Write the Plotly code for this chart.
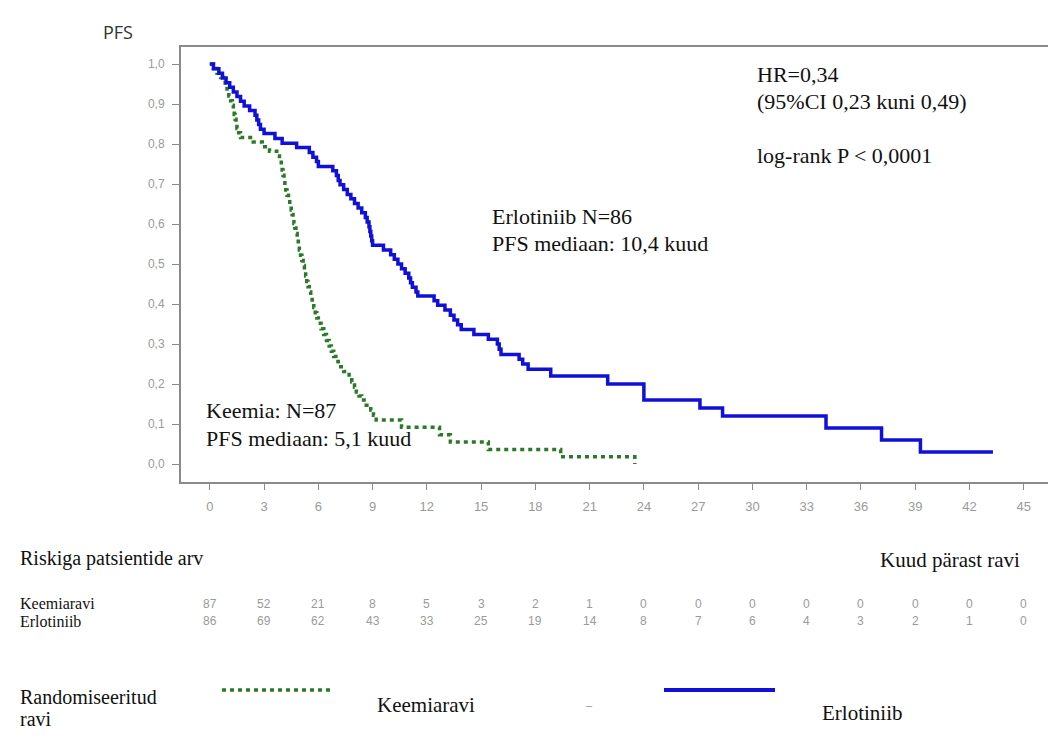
import plotly.graph_objects as go

# ---------------- data ----------------
erl_t = [0, 0.2, 0.5, 0.7, 0.9, 1.1, 1.3, 1.5, 1.7, 1.9, 2.2, 2.5, 2.6, 2.7, 2.8,
         3.0, 3.6, 4.0, 4.8, 5.5, 5.7, 5.9, 6.0, 6.8, 7.0, 7.1, 7.2, 7.4, 7.6, 7.8,
         8.0, 8.2, 8.4, 8.6, 8.7, 8.8, 8.85, 8.9, 8.95, 9.0, 9.6, 10.0, 10.2, 10.4, 10.6,
         10.8, 11.0, 11.1, 11.2, 11.4, 11.5, 12.4, 12.6, 13.0, 13.3, 13.5, 13.7, 13.9, 14.6, 15.4,
         15.9, 16.0, 16.1, 17.1, 17.3, 17.6, 18.85, 22.0, 24.0, 27.1, 28.35, 34.07, 37.14, 39.29, 43.3]
erl_s = [1.0, 0.988, 0.977, 0.965, 0.953, 0.942, 0.930, 0.919, 0.907, 0.895, 0.884, 0.872, 0.860, 0.849, 0.837,
         0.826, 0.814, 0.802, 0.791, 0.779, 0.767, 0.756, 0.744, 0.733, 0.721, 0.709, 0.698, 0.686, 0.674, 0.663,
         0.651, 0.640, 0.628, 0.616, 0.605, 0.593, 0.581, 0.570, 0.558, 0.547, 0.535, 0.523, 0.512, 0.500, 0.488,
         0.477, 0.465, 0.453, 0.442, 0.430, 0.420, 0.408, 0.397, 0.385, 0.372, 0.360, 0.348, 0.336, 0.324, 0.312,
         0.300, 0.287, 0.274, 0.262, 0.250, 0.237, 0.220, 0.200, 0.160, 0.140, 0.120, 0.090, 0.060, 0.030, 0.030]

kem_t = [0, 0.2, 0.4, 0.6, 0.75, 0.85, 0.95, 1.05, 1.15, 1.25, 1.3, 1.35, 1.4, 1.45, 1.5,
         1.6, 1.7, 2.4, 2.9, 3.3, 3.7, 3.85, 3.95, 4.0, 4.05, 4.1, 4.15, 4.2, 4.27, 4.35,
         4.42, 4.5, 4.55, 4.6, 4.65, 4.7, 4.76, 4.83, 4.89, 4.95, 5.02, 5.09, 5.16, 5.23, 5.3,
         5.36, 5.43, 5.5, 5.58, 5.66, 5.75, 5.83, 5.92, 6.0, 6.15, 6.3, 6.45, 6.6, 6.72, 6.85,
         6.97, 7.1, 7.4, 7.7, 7.85, 8.0, 8.1, 8.25, 8.4, 8.65, 8.9, 9.05, 9.2, 10.6, 12.7,
         13.3, 15.4, 19.4, 23.5]
kem_s = [1.0, 0.989, 0.977, 0.966, 0.954, 0.943, 0.931, 0.920, 0.908, 0.897, 0.885, 0.874, 0.862, 0.851, 0.839,
         0.828, 0.816, 0.805, 0.793, 0.782, 0.770, 0.759, 0.747, 0.735, 0.722, 0.710, 0.697, 0.685, 0.672, 0.660,
         0.647, 0.635, 0.624, 0.612, 0.601, 0.590, 0.576, 0.562, 0.549, 0.535, 0.522, 0.509, 0.496, 0.483, 0.470,
         0.456, 0.443, 0.430, 0.417, 0.404, 0.391, 0.378, 0.365, 0.352, 0.338, 0.324, 0.309, 0.295, 0.282, 0.269,
         0.256, 0.243, 0.231, 0.218, 0.205, 0.192, 0.180, 0.170, 0.160, 0.147, 0.135, 0.122, 0.110, 0.092, 0.073,
         0.055, 0.036, 0.018, 0.0]

risk_months = [0, 3, 6, 9, 12, 15, 18, 21, 24, 27, 30, 33, 36, 39, 42, 45]
risk_kem = [87, 52, 21, 8, 5, 3, 2, 1, 0, 0, 0, 0, 0, 0, 0, 0]
risk_erl = [86, 69, 62, 43, 33, 25, 19, 14, 8, 7, 6, 4, 3, 2, 1, 0]

y_ticks = [0.0, 0.1, 0.2, 0.3, 0.4, 0.5, 0.6, 0.7, 0.8, 0.9, 1.0]

# ---------------- layout geometry ----------------
W, H = 1048, 737
L, R, T, B = 181, 0, 47, 255
PW, PH = W - L - R, H - T - B


def px(x, y):
    return (x - L) / PW, (H - B - y) / PH


GREEN = "#2a7a2a"
BLUE = "#1010d8"
GREY = "#9a9a9a"
AXIS = "#8a8a8a"
SERIF = "Liberation Serif, Times New Roman, serif"
NARROW = "Liberation Sans Narrow, Liberation Sans, Arial, sans-serif"

fig = go.Figure()
fig.add_trace(go.Scatter(x=kem_t, y=kem_s, mode="lines", line_shape="hv",
                         line=dict(color=GREEN, width=3.5, dash="4px,4px"),
                         showlegend=False, hoverinfo="skip"))
fig.add_trace(go.Scatter(x=erl_t, y=erl_s, mode="lines", line_shape="hv",
                         line=dict(color=BLUE, width=3.5),
                         showlegend=False, hoverinfo="skip"))

ann = []


def add_text(x, y, text, size, color="#111", family=SERIF, xanchor="left"):
    xp, yp = px(x, y)
    ann.append(dict(x=xp, y=yp, xref="paper", yref="paper", text=text, showarrow=False,
                    xanchor=xanchor, yanchor="middle",
                    font=dict(family=family, size=size, color=color)))


add_text(118, 32, "PFS", 18, "#333", "Open Sans, Liberation Sans, sans-serif", "center")
add_text(755, 74, "HR=0,34", 22)
add_text(755, 101, "(95%CI 0,23 kuni 0,49)", 22)
add_text(755, 155, "log-rank P < 0,0001", 22)
add_text(490, 217, "Erlotiniib N=86", 22)
add_text(490, 243, "PFS mediaan: 10,4 kuud", 22)
add_text(204, 410, "Keemia: N=87", 22)
add_text(204, 438, "PFS mediaan: 5,1 kuud", 22)

add_text(18, 558, "Riskiga patsientide arv", 20)
add_text(1022, 560, "Kuud pärast ravi", 21, xanchor="right")
add_text(18, 603, "Keemiaravi", 16)
add_text(18, 621, "Erlotiniib", 16)

add_text(18, 697, "Randomiseeritud", 20)
add_text(18, 719, "ravi", 20)
add_text(375, 705, "Keemiaravi", 21)
add_text(583, 705, "–", 12, "#888")
add_text(820, 713, "Erlotiniib", 21)

# at-risk numbers, placed at the x-axis month positions
for m, k, e in zip(risk_months, risk_kem, risk_erl):
    _, yk = px(0, 604)
    _, ye = px(0, 621)
    ann.append(dict(x=m, y=yk, xref="x", yref="paper", text=str(k), showarrow=False,
                    xanchor="center", yanchor="middle", font=dict(family=NARROW, size=12, color=GREY)))
    ann.append(dict(x=m, y=ye, xref="x", yref="paper", text=str(e), showarrow=False,
                    xanchor="center", yanchor="middle", font=dict(family=NARROW, size=12, color=GREY)))

# legend sample lines
shapes = []
x0, y0 = px(222, 690)
x1, _ = px(334, 690)
shapes.append(dict(type="line", xref="paper", yref="paper", x0=x0, x1=x1, y0=y0, y1=y0,
                   line=dict(color=GREEN, width=3.5, dash="4px,4px")))
x0, y0 = px(664, 690)
x1, _ = px(775, 690)
shapes.append(dict(type="line", xref="paper", yref="paper", x0=x0, x1=x1, y0=y0, y1=y0,
                   line=dict(color=BLUE, width=4)))

fig.update_layout(
    width=W, height=H, margin=dict(l=L, r=R, t=T, b=B, pad=0),
    paper_bgcolor="white", plot_bgcolor="white",
    separators=",.",
    annotations=ann, shapes=shapes,
    xaxis=dict(range=[(L - 210) / 18.2, (W - 210) / 18.2 + 0.3], tickmode="array",
               tickvals=risk_months, ticks="outside", ticklen=6, tickcolor=AXIS,
               showline=True, linecolor=AXIS, linewidth=2, mirror=True, showgrid=False,
               zeroline=False, tickfont=dict(family=NARROW, size=13, color=GREY),
               ticklabelstandoff=5),
    yaxis=dict(range=[(464 - 482) / 400, (464 - 47) / 400], tickmode="array",
               tickvals=y_ticks, tickformat=".1f", ticks="outside", ticklen=7, tickcolor=AXIS,
               showline=True, linecolor=AXIS, linewidth=2, mirror=False, showgrid=False,
               zeroline=False, tickfont=dict(family=NARROW, size=12, color=GREY),
               ticklabelstandoff=5),
)

fig.write_html("out.html")
